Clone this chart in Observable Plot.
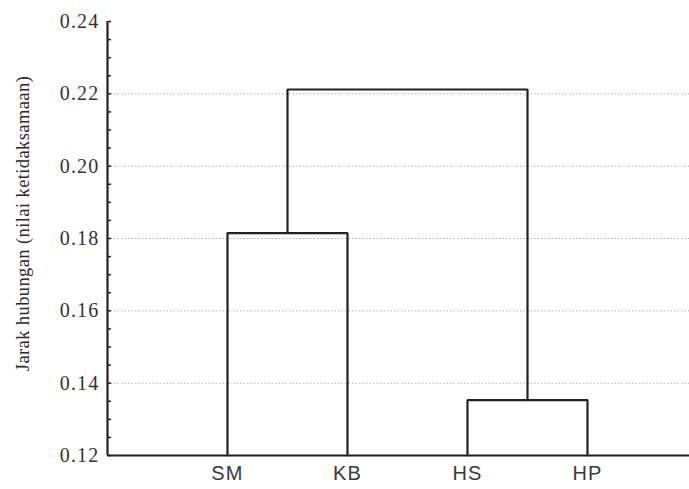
<!DOCTYPE html>
<html>
<head>
<meta charset="utf-8">
<script src="https://cdn.jsdelivr.net/npm/d3@7"></script>
<script src="https://cdn.jsdelivr.net/npm/@observablehq/plot@0.6"></script>
<style>
  html, body { margin: 0; padding: 0; background: #fff; }
  #chart svg { display: block; }
  g[aria-label="y-axis tick label"] text { letter-spacing: 1.2px; }
  g[aria-label="x-axis tick label"] text { letter-spacing: 1.2px; }
  g[aria-label="text"] text { letter-spacing: 0.4px; }
</style>
</head>
<body>
<div id="chart"></div>
<script>
// Leaves of the dendrogram and their order along the x axis
const leaves = ["SM", "KB", "HS", "HP"];
const leafOrder = [1, 2, 3, 4];
const baseline = 0.12;

// Merges (agglomeration steps): left cluster, right cluster, linkage distance
const mergeLeft = ["SM", "HS", "SM+KB"];
const mergeRight = ["KB", "HP", "HS+HP"];
const mergeHeight = [0.1815, 0.1353, 0.2212];

// Axis ticks
const yMajorTicks = [0.12, 0.14, 0.16, 0.18, 0.20, 0.22, 0.24];
const yGridTicks = [0.14, 0.16, 0.18, 0.20, 0.22];
const yMinorTicks = [0.12, 0.125, 0.13, 0.135, 0.14, 0.145, 0.15, 0.155, 0.16, 0.165, 0.17, 0.175,
  0.18, 0.185, 0.19, 0.195, 0.20, 0.205, 0.21, 0.215, 0.22, 0.225, 0.23, 0.235, 0.24];
const yLabel = "Jarak hubungan (nilai ketidaksamaan)";

// Build node table
const nodes = new Map();
leaves.forEach((name, i) => nodes.set(name, {x: leafOrder[i], h: baseline}));
const paths = [];
mergeLeft.forEach((l, i) => {
  const r = mergeRight[i], h = mergeHeight[i];
  const a = nodes.get(l), b = nodes.get(r);
  const id = l + "+" + r;
  paths.push({id, x: a.x, y: a.h, k: 0});
  paths.push({id, x: a.x, y: h, k: 1});
  paths.push({id, x: b.x, y: h, k: 2});
  paths.push({id, x: b.x, y: b.h, k: 3});
  nodes.set(id, {x: (a.x + b.x) / 2, h});
});

const chart = Plot.plot({
  width: 689,
  height: 489,
  marginLeft: 107,
  marginRight: 0,
  marginTop: 21,
  marginBottom: 34,
  x: {domain: [0, 4.85]},
  y: {domain: [0.12, 0.24]},
  marks: [
    Plot.gridY(yGridTicks, {stroke: "#9a9a9a", strokeOpacity: 0.8, strokeDasharray: "1.5,2"}),
    Plot.axisY(yMajorTicks, {
      anchor: "left", tickSize: 0, tickPadding: 8, tickFormat: d3.format(".2f"),
      fontSize: 20, fontFamily: "Liberation Serif", fill: "#333", label: null
    }),
    Plot.axisY(yMinorTicks, {
      anchor: "right", frameAnchor: "left", tickSize: 3, text: null, label: null, stroke: "#222", strokeWidth: 1.5
    }),
    Plot.axisX(leafOrder, {
      tickSize: 0, tickPadding: 10, tickFormat: (d) => leaves[leafOrder.indexOf(d)],
      fontSize: 20, fontFamily: "Liberation Sans", fill: "#3a3a3a", label: null
    }),
    Plot.text([yLabel], {
      frameAnchor: "left", textAnchor: "middle", rotate: -90, dx: -84, dy: -15, fontSize: 18.5,
      fontFamily: "Liberation Serif", fill: "#2a2a2a"
    }),
    Plot.line(paths, {x: "x", y: "y", z: "id", sort: "k", stroke: "#222", strokeWidth: 2.2, strokeLinejoin: "miter"}),
    Plot.ruleY([baseline], {stroke: "#222", strokeWidth: 2.2}),
    Plot.ruleX([0], {stroke: "#222", strokeWidth: 2.2})
  ]
});
document.getElementById("chart").appendChild(chart);
</script>
</body>
</html>
